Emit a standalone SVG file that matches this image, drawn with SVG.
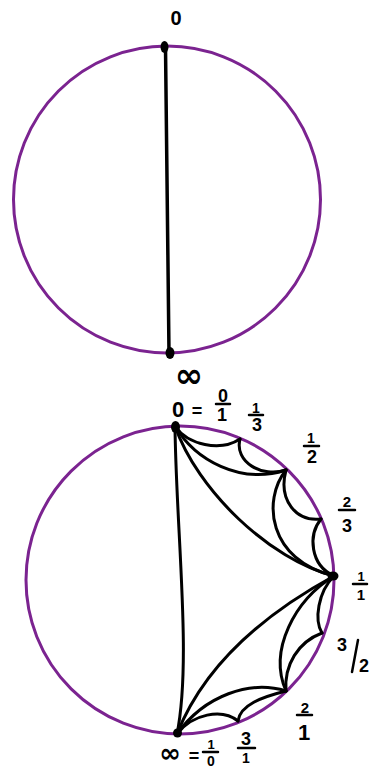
<svg xmlns="http://www.w3.org/2000/svg" width="384" height="770" viewBox="0 0 384 770">
<style>
.disk{fill:none;stroke:#7b2390;stroke-width:3}
.geo{fill:none;stroke:#000;stroke-width:3;stroke-linecap:round}
.dot{fill:#000}
.lbl{font-family:"Liberation Sans","DejaVu Sans",sans-serif;font-weight:bold;font-size:18px;fill:#000;text-anchor:middle}
.inf{font-family:"DejaVu Sans","Liberation Sans",sans-serif;font-weight:bold;font-size:34px;fill:#000;text-anchor:middle}
.bar{stroke:#000;stroke-width:2.5;stroke-linecap:round}
</style>
<rect width="384" height="770" fill="#fff"/>
<g id="disk-top"><circle class="disk" cx="167" cy="199.5" r="153.5"/></g>
<g id="disk-bottom"><circle class="disk" cx="180" cy="580" r="154"/></g>
<g id="connectors">
<path class="geo" d="M165.5,47 L169,353" style="stroke-width:3.5"/>
<path class="geo" d="M175,426 C188,445 220,452 240,439"/>
<path class="geo" d="M175,426 C195,460 240,485 286,470"/>
<path class="geo" d="M175,426 C197,490 270,560 334,576"/>
<path class="geo" d="M175,426 C176,530 192,660 177,734"/>
<path class="geo" d="M240,439 C234,462 262,478 286,470"/>
<path class="geo" d="M286,470 C278,500 296,522 321,519"/>
<path class="geo" d="M286,470 C262,500 268,560 334,576"/>
<path class="geo" d="M321,519 C308,535 310,565 334,576"/>
<path class="geo" d="M334,576 C290,600 210,650 177,734"/>
<path class="geo" d="M334,576 C295,600 268,650 286,691"/>
<path class="geo" d="M334,576 C318,592 314,620 322,633"/>
<path class="geo" d="M322,633 C298,642 284,665 286,691"/>
<path class="geo" d="M286,691 C250,680 205,695 177,734"/>
<path class="geo" d="M286,691 C262,697 240,705 238,721"/>
<path class="geo" d="M238,721 C222,708 192,714 177,734"/>
</g>
<g id="top-zero">
<ellipse class="dot" cx="164.5" cy="47" rx="4" ry="6"/>
<text class="lbl" x="176" y="25" style="font-size:20px">0</text>
</g>
<g id="top-infinity">
<ellipse class="dot" cx="170" cy="353" rx="4.5" ry="6"/>
<text class="inf" x="189" y="387">∞</text>
</g>
<g id="node-0">
<ellipse class="dot" cx="175.5" cy="427" rx="4.5" ry="6"/>
<text class="lbl" x="178" y="417" style="font-size:22px">0</text>
<text class="lbl" x="197" y="417">=</text>
<text class="lbl" x="223" y="402">0</text>
<line class="bar" x1="216" y1="404" x2="230" y2="404"/>
<text class="lbl" x="222" y="421">1</text>
</g>
<g id="node-1-3">
<text class="lbl" x="256" y="413" style="font-size:14px">1</text>
<line class="bar" x1="249" y1="415" x2="263" y2="415"/>
<text class="lbl" x="257" y="431">3</text>
</g>
<g id="node-1-2">
<text class="lbl" x="311" y="443" style="font-size:14px">1</text>
<line class="bar" x1="304" y1="446" x2="319" y2="446"/>
<text class="lbl" x="312" y="463">2</text>
</g>
<g id="node-2-3">
<text class="lbl" x="347" y="507" style="font-size:15px">2</text>
<line class="bar" x1="339" y1="510" x2="355" y2="510"/>
<text class="lbl" x="347" y="532">3</text>
</g>
<g id="node-1-1">
<ellipse class="dot" cx="333" cy="576" rx="5.5" ry="4.5"/>
<text class="lbl" x="361" y="581" style="font-size:13px">1</text>
<line class="bar" x1="353" y1="584" x2="367" y2="584"/>
<text class="lbl" x="361" y="600" style="font-size:15px">1</text>
</g>
<g id="node-3-2">
<text class="lbl" x="342" y="651">3</text>
<line class="bar" x1="358" y1="640" x2="352" y2="672"/>
<text class="lbl" x="364" y="672">2</text>
</g>
<g id="node-2-1">
<text class="lbl" x="305" y="713" style="font-size:15px">2</text>
<line class="bar" x1="297" y1="715" x2="312" y2="715"/>
<text class="lbl" x="304" y="740" style="font-size:22px">1</text>
</g>
<g id="node-3-1">
<text class="lbl" x="246" y="745">3</text>
<line class="bar" x1="238" y1="748" x2="255" y2="748"/>
<text class="lbl" x="246" y="763" style="font-size:14px">1</text>
</g>
<g id="node-infinity">
<ellipse class="dot" cx="177.5" cy="733" rx="4.5" ry="4.5"/>
<text class="inf" x="170" y="762" style="font-size:26px">∞</text>
<text class="lbl" x="194" y="762">=</text>
<text class="lbl" x="211" y="749" style="font-size:13px">1</text>
<line class="bar" x1="203" y1="752" x2="218" y2="752"/>
<text class="lbl" x="211" y="766" style="font-size:14px">0</text>
</g>
</svg>
